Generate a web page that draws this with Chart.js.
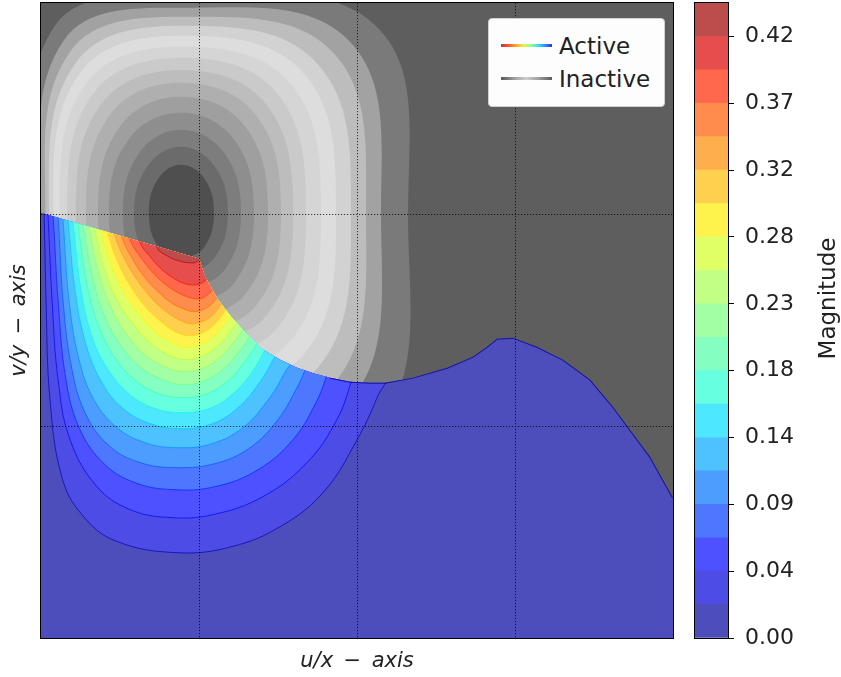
<!DOCTYPE html>
<html>
<head>
<meta charset="utf-8">
<title>Active / inactive magnitude</title>
<script src="https://cdn.jsdelivr.net/npm/chart.js@4.4.1/dist/chart.umd.min.js"></script>
<style>
  body { margin: 0; background: #fff; }
  #figure { position: relative; width: 841px; height: 677px; overflow: hidden; }
  #figure canvas { position: absolute; top: 0; }
  #grayChart, #activeChart { left: 0; }
  #colorbar { left: 680px; }
  #legend { position: absolute; left: 488px; top: 18px; width: 177px; height: 89px; box-sizing: border-box;
            background: #fdfdfd; border: 1px solid #d0d0d0; border-radius: 4px;
            font-family: 'DejaVu Sans', sans-serif; font-size: 23px; color: #222; }
  #legend .swatch { position: absolute; left: 12px; width: 51px; height: 3px; }
  #legend .label { position: absolute; left: 70px; line-height: 26px; white-space: nowrap; }
</style>
</head>
<body>
<div id="figure">
  <canvas id="grayChart" width="690" height="677"></canvas>
  <canvas id="activeChart" width="690" height="677"></canvas>
  <canvas id="colorbar" width="161" height="677"></canvas>
  <div id="legend">
    <div class="swatch" style="top:25px; background: linear-gradient(to right, #c83030, #ff5a30 15%, #ffaa30 30%, #f0f040 45%, #80ffa0 60%, #30d8ff 75%, #3080ff 88%, #3434e0);"></div>
    <div class="label" style="top:14px">Active</div>
    <div class="swatch" style="top:58px; background: linear-gradient(to right, #565656, #a8a8a8 30%, #cdcdcd 50%, #a8a8a8 70%, #5c5c5c);"></div>
    <div class="label" style="top:47px">Inactive</div>
  </div>
</div>
<script>
Chart.defaults.font.family = 'DejaVu Sans';

// panel extent (u/x and v/y)
const panelX = [-1, 3];
const panelY = [-2, 1];

// colour bar
const levels = [0.0000, 0.0233, 0.0466, 0.0699, 0.0932, 0.1165, 0.1398, 0.1631, 0.1864, 0.2097,
                0.2330, 0.2563, 0.2796, 0.3029, 0.3262, 0.3495, 0.3728, 0.3961, 0.4194, 0.4427];
const tickIndex = [0, 2, 4, 6, 8, 10, 12, 14, 16, 18];
const tickLabels = ['0.00', '0.04', '0.09', '0.14', '0.18', '0.23', '0.28', '0.32', '0.37', '0.42'];
const bandColors = ['#4d4dbb', '#4d4de6', '#4d51ff', '#4d77ff', '#4d9cff', '#4dc2ff', '#4de7fe',
                    '#66ffdf', '#85ffc1', '#a3ffa3', '#c1ff85', '#e0ff66', '#fef34d', '#ffd04d',
                    '#ffae4d', '#ff8b4d', '#ff684d', '#e64d4d', '#bb4d4d'];
const lineColors = ['rgba(0,0,188,0.7)', 'rgba(0,0,250,0.7)', 'rgba(0,34,255,0.7)', 'rgba(0,87,255,0.7)',
                    'rgba(0,141,255,0.7)', 'rgba(0,195,255,0.7)', 'rgba(15,248,232,0.7)', 'rgba(58,255,188,0.7)',
                    'rgba(102,255,145,0.7)', 'rgba(145,255,102,0.7)', 'rgba(188,255,58,0.7)', 'rgba(232,255,15,0.7)',
                    'rgba(255,213,0,0.7)', 'rgba(255,163,0,0.7)', 'rgba(255,114,0,0.7)', 'rgba(255,64,0,0.7)',
                    'rgba(250,14,0,0.7)', 'rgba(188,0,0,0.7)'];

// edge of the active region, left to right
const edgeX = [-1.000, 0.000, 0.038, 0.120, 0.209, 0.310, 0.405, 0.513, 0.620, 0.734, 0.829, 0.956, 1.082, 1.177,
               1.354, 1.570, 1.734, 1.823, 1.886, 1.987, 2.139, 2.304, 2.475, 2.620, 2.728, 2.854, 3.000];
const edgeY = [0.009, -0.208, -0.293, -0.402, -0.487, -0.567, -0.638, -0.685, -0.723, -0.751, -0.770, -0.789, -0.794, -0.794,
               -0.770, -0.723, -0.671, -0.624, -0.586, -0.581, -0.624, -0.685, -0.779, -0.907, -1.016, -1.143, -1.337];
const zeroLineFrom = 10;

// active contours, levels 1..18 (parts outside the active region are hidden)
const activeContours = [
  [[-0.994,0.142],[-0.981,0.005],[-0.968,-0.402],[-0.943,-0.874],[-0.867,-1.242],[-0.741,-1.417],[-0.532,-1.540],[-0.139,-1.597],[0.209,-1.568],[0.525,-1.469],[0.791,-1.308],[0.994,-1.072],[1.127,-0.864],[1.209,-0.685]],
  [[-0.968,0.118],[-0.956,0.000],[-0.930,-0.402],[-0.892,-0.779],[-0.816,-1.063],[-0.646,-1.285],[-0.437,-1.393],[-0.184,-1.431],[0.089,-1.417],[0.405,-1.332],[0.684,-1.171],[0.873,-0.968],[0.968,-0.779],[1.032,-0.614]],
  [[-0.943,0.109],[-0.924,-0.005],[-0.892,-0.402],[-0.842,-0.779],[-0.753,-1.016],[-0.595,-1.181],[-0.405,-1.266],[-0.171,-1.299],[0.101,-1.285],[0.373,-1.205],[0.595,-1.063],[0.734,-0.897],[0.804,-0.770],[0.854,-0.638]],
  [[-0.911,0.094],[-0.892,-0.014],[-0.861,-0.402],[-0.804,-0.732],[-0.715,-0.945],[-0.563,-1.096],[-0.373,-1.171],[-0.152,-1.195],[0.101,-1.176],[0.323,-1.101],[0.500,-0.968],[0.614,-0.826],[0.671,-0.732],[0.722,-0.590]],
  [[-0.880,0.085],[-0.861,-0.024],[-0.823,-0.402],[-0.759,-0.685],[-0.665,-0.874],[-0.519,-1.006],[-0.342,-1.077],[-0.139,-1.101],[0.082,-1.082],[0.278,-1.006],[0.424,-0.888],[0.532,-0.760],[0.627,-0.590]],
  [[-0.848,0.076],[-0.829,-0.028],[-0.785,-0.354],[-0.715,-0.614],[-0.614,-0.794],[-0.481,-0.916],[-0.310,-0.987],[-0.127,-1.011],[0.070,-0.992],[0.234,-0.921],[0.361,-0.817],[0.462,-0.694],[0.544,-0.543]],
  [[-0.816,0.066],[-0.797,-0.038],[-0.747,-0.354],[-0.671,-0.590],[-0.563,-0.746],[-0.430,-0.855],[-0.278,-0.916],[-0.120,-0.935],[0.063,-0.916],[0.209,-0.850],[0.329,-0.751],[0.411,-0.647],[0.487,-0.520]],
  [[-0.785,0.057],[-0.766,-0.047],[-0.709,-0.331],[-0.627,-0.543],[-0.519,-0.690],[-0.392,-0.789],[-0.253,-0.846],[-0.114,-0.864],[0.051,-0.846],[0.184,-0.784],[0.291,-0.694],[0.367,-0.605],[0.437,-0.487]],
  [[-0.753,0.047],[-0.734,-0.052],[-0.671,-0.307],[-0.589,-0.496],[-0.481,-0.633],[-0.361,-0.727],[-0.234,-0.779],[-0.108,-0.803],[0.038,-0.784],[0.158,-0.727],[0.253,-0.647],[0.323,-0.572],[0.386,-0.449]],
  [[-0.715,0.038],[-0.696,-0.061],[-0.633,-0.283],[-0.551,-0.449],[-0.449,-0.576],[-0.335,-0.666],[-0.215,-0.718],[-0.101,-0.742],[0.032,-0.723],[0.139,-0.671],[0.222,-0.600],[0.291,-0.524],[0.348,-0.402]],
  [[-0.677,0.028],[-0.658,-0.071],[-0.595,-0.269],[-0.513,-0.411],[-0.411,-0.524],[-0.304,-0.609],[-0.196,-0.661],[-0.089,-0.685],[0.025,-0.666],[0.120,-0.619],[0.196,-0.553],[0.259,-0.477],[0.310,-0.364]],
  [[-0.639,0.019],[-0.620,-0.080],[-0.551,-0.250],[-0.468,-0.378],[-0.373,-0.477],[-0.272,-0.557],[-0.171,-0.605],[-0.076,-0.628],[0.025,-0.609],[0.108,-0.567],[0.177,-0.505],[0.234,-0.439],[0.278,-0.354]],
  [[-0.595,0.009],[-0.576,-0.090],[-0.506,-0.236],[-0.424,-0.350],[-0.335,-0.439],[-0.241,-0.505],[-0.152,-0.553],[-0.063,-0.572],[0.025,-0.557],[0.101,-0.515],[0.165,-0.453],[0.215,-0.392],[0.259,-0.307]],
  [[-0.551,0.000],[-0.532,-0.099],[-0.462,-0.222],[-0.380,-0.321],[-0.291,-0.402],[-0.209,-0.458],[-0.127,-0.496],[-0.051,-0.515],[0.032,-0.501],[0.101,-0.463],[0.152,-0.406],[0.209,-0.317]],
  [[-0.506,-0.009],[-0.487,-0.109],[-0.418,-0.213],[-0.342,-0.298],[-0.259,-0.364],[-0.177,-0.416],[-0.101,-0.444],[-0.032,-0.458],[0.038,-0.444],[0.095,-0.411],[0.146,-0.354],[0.196,-0.260]],
  [[-0.456,-0.019],[-0.437,-0.118],[-0.367,-0.203],[-0.291,-0.274],[-0.209,-0.331],[-0.133,-0.368],[-0.057,-0.392],[0.006,-0.397],[0.063,-0.373],[0.108,-0.331],[0.158,-0.236]],
  [[-0.392,-0.033],[-0.373,-0.132],[-0.310,-0.198],[-0.241,-0.255],[-0.165,-0.298],[-0.089,-0.326],[-0.019,-0.331],[0.038,-0.312],[0.082,-0.260]],
  [[-0.285,-0.061],[-0.266,-0.156],[-0.203,-0.194],[-0.133,-0.217],[-0.063,-0.227],[-0.013,-0.222],[0.025,-0.175]]
];
const hiddenTop = [-0.12, 0.35];

// inactive rings around the dark core, outer to inner
const grayCenter = [-0.114, 0.009];
const grayRight = [1.437, 1.266, 1.171, 1.076, 0.981, 0.886, 0.791, 0.709, 0.633, 0.551, 0.462, 0.380, 0.297, 0.209];
const grayUp    = [1.025, 0.968, 0.926, 0.883, 0.836, 0.784, 0.732, 0.675, 0.614, 0.548, 0.472, 0.392, 0.312, 0.227];
const grayLeft  = [0.930, 0.885, 0.858, 0.835, 0.808, 0.768, 0.720, 0.665, 0.601, 0.525, 0.456, 0.367, 0.297, 0.203];
const grayDown  = [1.181, 1.063, 0.992, 0.921, 0.850, 0.779, 0.709, 0.642, 0.586, 0.520, 0.453, 0.378, 0.302, 0.227];
const grayCorner = [0.86, 0.84, 0.82, 0.80, 0.79, 0.78, 0.77, 0.76, 0.75, 0.74, 0.73, 0.72, 0.71, 0.71];
const grayShades = ['#7a7a7a', '#a2a2a2', '#bdbdbd', '#d2d2d2', '#dddddd', '#d5d5d5', '#cacaca',
                    '#bdbdbd', '#afafaf', '#9f9f9f', '#8e8e8e', '#7d7d7d', '#6b6b6b', '#4f4f4f'];
const grayBackground = '#5e5e5e';

const panelBox = [[panelX[0], panelY[1]], [panelX[1], panelY[1]], [panelX[1], panelY[0]], [panelX[0], panelY[0]], [panelX[0], panelY[1]]];
const toXY = pts => pts.map(p => ({x: p[0], y: p[1]}));

function ringPoints(i) {
    const c = grayCorner[i], r = grayRight[i], u = grayUp[i], l = grayLeft[i], d = grayDown[i];
    const [cx, cy] = grayCenter;
    return toXY([[cx, cy - d], [cx + c * r, cy - c * d], [cx + r, cy], [cx + c * r, cy + c * u], [cx, cy + u],
                 [cx - c * l, cy + c * u], [cx - l, cy], [cx - c * l, cy - c * d], [cx, cy - d]]);
}

function shape(points, fillColor, extra) {
    return Object.assign({data: points, showLine: true, fill: 'shape', backgroundColor: fillColor,
        borderColor: 'transparent', borderWidth: 0, tension: 0, pointRadius: 0}, extra);
}

const grayDatasets = [shape(toXY(panelBox), grayBackground)];
grayShades.forEach((shade, i) => grayDatasets.push(shape(ringPoints(i), shade, {tension: 0.4})));

const activeDatasets = [shape(toXY(panelBox), bandColors[0])];
activeContours.forEach((pts, k) => {
    activeDatasets.push(shape(toXY(pts.concat([hiddenTop, pts[0]])), bandColors[k + 1],
        {borderColor: lineColors[k], borderWidth: 1, tension: 0.4}));
});
activeDatasets.push({
    data: toXY(edgeX.map((v, i) => [v, edgeY[i]]).slice(zeroLineFrom)),
    showLine: true, fill: false, borderColor: 'rgba(0,0,140,0.75)', borderWidth: 2, tension: 0, pointRadius: 0
});

// first dataset at the bottom
[grayDatasets, activeDatasets].forEach(list => list.forEach((d, i) => { d.order = -i; }));

const activeClip = {
    id: 'activeClip',
    beforeDatasetsDraw(chart) {
        const {ctx, scales: {x, y}} = chart;
        ctx.save();
        ctx.beginPath();
        edgeX.forEach((v, i) => ctx.lineTo(x.getPixelForValue(v), y.getPixelForValue(edgeY[i])));
        ctx.lineTo(x.getPixelForValue(panelX[1]), y.getPixelForValue(panelY[0]));
        ctx.lineTo(x.getPixelForValue(panelX[0]), y.getPixelForValue(panelY[0]));
        ctx.closePath();
        ctx.clip();
    },
    afterDatasetsDraw(chart) {
        chart.ctx.restore();
    }
};

const frame = {
    id: 'frame',
    afterDraw(chart) {
        const {ctx, chartArea: a} = chart;
        ctx.save();
        ctx.strokeStyle = '#000';
        ctx.lineWidth = 1;
        ctx.strokeRect(a.left - 0.5, a.top - 0.5, a.right - a.left + 1, a.bottom - a.top + 1);
        ctx.restore();
    }
};

function panelOptions(decor) {
    const gridColor = c => (decor && c.tick.value > c.scale.min && c.tick.value < c.scale.max) ? 'rgba(0,0,0,0.75)' : 'transparent';
    const titleFont = {family: 'DejaVu Sans', size: 21, style: 'italic'};
    return {
        responsive: false,
        animation: false,
        events: [],
        layout: {autoPadding: false, padding: {top: 3, right: 17, left: 0, bottom: 0}},
        elements: {point: {radius: 0}, line: {capBezierPoints: false}},
        plugins: {legend: {display: false}, tooltip: {enabled: false}},
        scales: {
            x: {
                type: 'linear', min: panelX[0], max: panelX[1],
                ticks: {display: false, stepSize: 1},
                grid: {color: gridColor, drawTicks: false, lineWidth: 1, z: 1},
                border: {display: false, dash: [1.2, 1.8]},
                title: {display: decor, text: 'u/x\u2002\u2212\u2002axis', font: titleFont, color: '#222', padding: {top: 0, bottom: 3}},
                afterFit: s => { s.height = 39; }
            },
            y: {
                type: 'linear', min: panelY[0], max: panelY[1],
                ticks: {display: false, stepSize: 1},
                grid: {color: gridColor, drawTicks: false, lineWidth: 1, z: 1},
                border: {display: false, dash: [1.2, 1.8]},
                title: {display: decor, text: 'v/y\u2002\u2212\u2002axis', font: titleFont, color: '#222', padding: {top: 7, bottom: 0}},
                afterFit: s => { s.width = 41; }
            }
        }
    };
}

new Chart(document.getElementById('grayChart'), {
    type: 'scatter',
    data: {datasets: grayDatasets},
    options: panelOptions(false)
});

new Chart(document.getElementById('activeChart'), {
    type: 'scatter',
    data: {datasets: activeDatasets},
    options: panelOptions(true),
    plugins: [activeClip, frame]
});

const magnitudeTitle = {
    id: 'magnitudeTitle',
    afterDraw(chart) {
        const {ctx, chartArea: a} = chart;
        ctx.save();
        ctx.translate(a.right + 101, (a.top + a.bottom) / 2 - 22);
        ctx.rotate(-Math.PI / 2);
        ctx.font = '23px "DejaVu Sans"';
        ctx.fillStyle = '#222';
        ctx.textAlign = 'center';
        ctx.textBaseline = 'middle';
        ctx.fillText('Magnitude', 0, 0);
        ctx.restore();
    }
};

new Chart(document.getElementById('colorbar'), {
    type: 'bar',
    data: {
        labels: [''],
        datasets: bandColors.map((c, k) => ({
            data: [[levels[k], levels[k + 1]]],
            backgroundColor: c,
            borderWidth: 0,
            barPercentage: 1,
            categoryPercentage: 1,
            grouped: false
        }))
    },
    options: {
        responsive: false,
        animation: false,
        events: [],
        layout: {autoPadding: false, padding: {left: 15, top: 3, bottom: 39, right: 0}},
        plugins: {legend: {display: false}, tooltip: {enabled: false}},
        scales: {
            x: {display: false},
            y: {
                position: 'right',
                min: levels[0],
                max: levels[levels.length - 1],
                afterBuildTicks: axis => { axis.ticks = tickIndex.map(k => ({value: levels[k]})); },
                ticks: {
                    autoSkip: false,
                    callback: (v, i) => tickLabels[i],
                    font: {size: 22},
                    color: '#222',
                    padding: 11
                },
                grid: {drawOnChartArea: false, drawTicks: true, tickLength: 6, tickColor: '#000', tickWidth: 1},
                border: {display: true, color: '#000', width: 1},
                afterFit: s => { s.width = 113; s.paddingTop = 0; s.paddingBottom = 0; }
            }
        }
    },
    plugins: [frame, magnitudeTitle]
});
</script>
</body>
</html>
